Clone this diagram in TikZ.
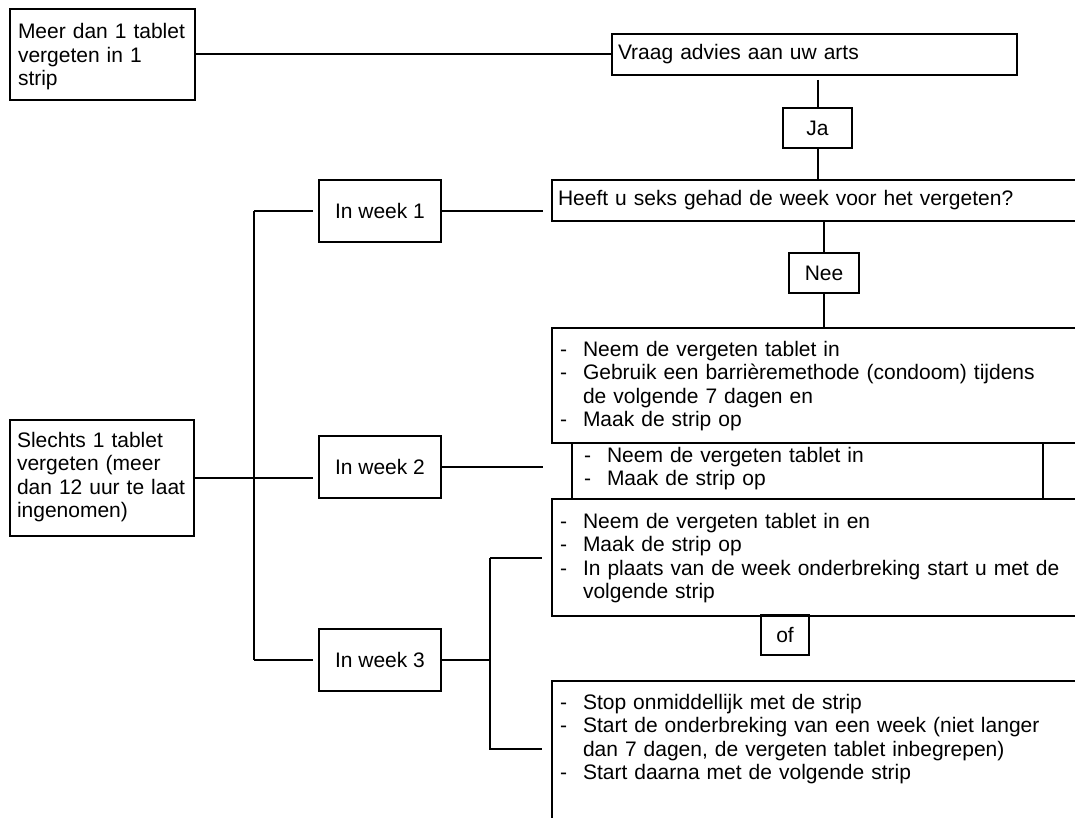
\documentclass[tikz,border=0pt]{standalone}
\usepackage{fontspec}
\setmainfont{Liberation Sans}

% dash with hanging indent for the list boxes
\newcommand{\lstDash}{\makebox[23pt][l]{-}}
\newcommand{\lstGap}{\hspace*{23pt}}

\begin{document}
\begin{tikzpicture}[
    x=1pt, y=-1pt,
    % Define the style for the boxes with text in the top left corner
    textBox/.style={
        draw=black,
        line width=2pt,
        rectangle,
        anchor=north west,
        inner ysep=0pt,
        align=left,
        font=\fontsize{21}{23.5}\selectfont
    },
    % Define the style for the small boxes with centred text
    tagNode/.style={
        draw=black,
        line width=2pt,
        rectangle,
        inner sep=0pt,
        font=\fontsize{21}{23.5}\selectfont
    },
    % Define the style for the connections
    edgeStyle/.style={
        draw=black,
        line width=2pt
    }
]

    % --- FRAME ---
    \useasboundingbox (0,0) rectangle (1075,818);
    \clip (0,0) rectangle (1075,818);
    % x of the vertical connectors
    \coordinate (trunk) at (254,0);
    \coordinate (branch) at (490,0);

    % --- NODES ---
    % Top row
    \node[textBox, inner xsep=8pt, text width=169pt, text height=30pt, text depth=61pt]
        (meer) at (9,8) {Meer dan 1 tablet\\vergeten in 1\\strip};
    \node[textBox, inner xsep=6pt, text width=393pt, text height=26pt, text depth=15pt]
        (vraag) at (611,33) {Vraag advies aan uw arts};
    \node[tagNode, minimum width=69pt, minimum height=40pt] (ja) at (817.5,128) {Ja};

    % Question for week 1
    \node[textBox, inner xsep=6pt, text width=637pt, text height=26pt, text depth=15pt]
        (heeft) at (551,179) {Heeft u seks gehad de week voor het vergeten?};
    \node[tagNode, minimum width=70pt, minimum height=40pt] (nee) at (824,273) {Nee};

    % Left side
    \node[textBox, inner xsep=7pt, text width=170pt, text height=27pt, text depth=89pt]
        (slechts) at (9,419) {Slechts 1 tablet\\vergeten (meer\\dan 12 uur te laat\\ingenomen)};

    % Week boxes
    \foreach \n/\y in {1/211, 2/467, 3/660} {
        \node[tagNode, minimum width=122pt, minimum height=62pt] (week\n) at (380,\y) {In week \n};
    }

    % Advice lists
    \node[textBox, inner xsep=8pt, text width=633pt, text height=28pt, text depth=87pt]
        (w1List) at (551,327) {\lstDash Neem de vergeten tablet in\\
        \lstDash Gebruik een barrièremethode (condoom) tijdens\\
        \lstGap de volgende 7 dagen en\\
        \lstDash Maak de strip op};
    \node[textBox, inner xsep=12pt, text width=447pt, text height=19pt, text depth=37pt]
        (w2List) at (571,442) {\lstDash Neem de vergeten tablet in\\
        \lstDash Maak de strip op};
    \node[textBox, inner xsep=8pt, text width=633pt, text height=29pt, text depth=88pt]
        (w3List) at (551,498) {\lstDash Neem de vergeten tablet in en\\
        \lstDash Maak de strip op\\
        \lstDash In plaats van de week onderbreking start u met de\\
        \lstGap volgende strip};
    \node[tagNode, minimum width=48pt, minimum height=40pt] (of) at (785,635) {of};
    \node[textBox, inner xsep=8pt, text width=633pt, text height=28pt, text depth=192pt]
        (stopList) at (551,680) {\lstDash Stop onmiddellijk met de strip\\
        \lstDash Start de onderbreking van een week (niet langer\\
        \lstGap dan 7 dagen, de vergeten tablet inbegrepen)\\
        \lstDash Start daarna met de volgende strip};

    % free ends
    \coordinate (w2End) at (543,467);
    \coordinate (stopEnd) at (542,749);

    % --- EDGES ---
    % Top row
    \draw[edgeStyle] (meer.east) -- (meer.east -| vraag.west);
    \draw[edgeStyle, shorten <=4pt] (ja.north |- vraag.south) -- (ja.north);
    \draw[edgeStyle] (ja.south) -- (ja.south |- heeft.north);
    \draw[edgeStyle] (nee.north |- heeft.south) -- (nee.north);
    \draw[edgeStyle] (nee.south) -- (nee.south |- w1List.north);

    % Trunk to the weeks
    \draw[edgeStyle, shorten >=5pt] (week1.west -| trunk) -- (week1.west);
    \draw[edgeStyle] (week1.west -| trunk) -- (week3.west -| trunk);
    \draw[edgeStyle, shorten >=5pt] (week3.west -| trunk) -- (week3.west);
    \draw[edgeStyle, shorten >=5pt] (slechts.east) -- (slechts.east -| week2.west);

    % Weeks to the advice
    \draw[edgeStyle, shorten >=8pt] (week1.east) -- (week1.east -| heeft.west);
    \draw[edgeStyle] (week2.east) -- (w2End);

    % Week 3 branch
    \draw[edgeStyle] (week3.east) -- (week3.east -| branch);
    \draw[edgeStyle, shorten >=9pt] (branch |- w3List.west) -- (w3List.west);
    \draw[edgeStyle] (branch |- w3List.west) -- (branch |- stopEnd) -- (stopEnd);

\end{tikzpicture}
\end{document}
